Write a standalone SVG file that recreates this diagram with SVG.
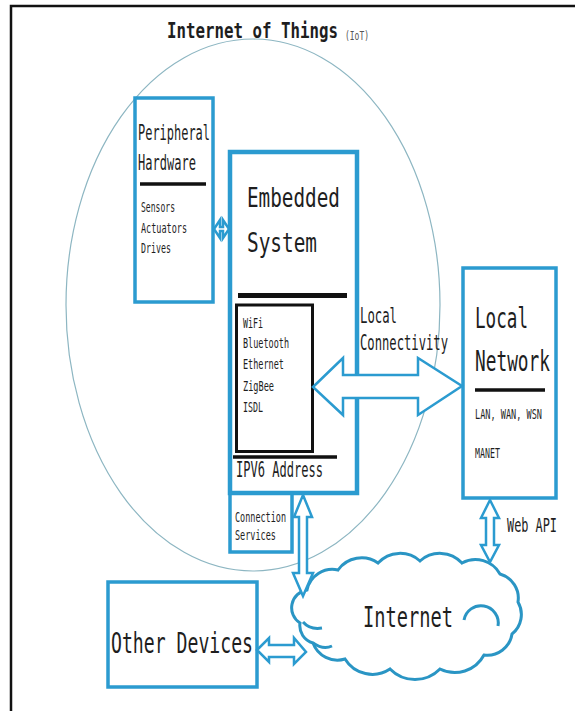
<svg xmlns="http://www.w3.org/2000/svg" width="575" height="711" viewBox="0 0 575 711">
<style>
text{font-family:"DejaVu Sans Mono","Liberation Mono",monospace;fill:#1e1e1e}
.box{fill:none;stroke:#2b9bd0;stroke-width:3.5}
.thick{fill:none;stroke:#2b9bd0;stroke-width:4.5}
.bar{stroke:#111;fill:none}
.arr{fill:#fff;stroke:#2b9bd0;stroke-width:2.5;stroke-linejoin:miter}
.sm{font-size:14px}
.md{font-size:22px}
.lg{font-size:29px}
</style>
<rect width="575" height="711" fill="#fff"/>
<path d="M11 711V6H575" fill="none" stroke="#111" stroke-width="2.5"/>
<g id="title">
<text transform="translate(167 38) scale(1 1.39)" font-size="15.8" font-weight="bold" textLength="171" lengthAdjust="spacingAndGlyphs">Internet of Things</text>
<text transform="translate(345 40) scale(1 1.6)" font-size="8" style="fill:#555" textLength="24" lengthAdjust="spacingAndGlyphs">(IoT)</text>
</g>
<g id="iot-boundary">
<ellipse cx="253" cy="305" rx="187" ry="266" fill="none" stroke="#8db6c2" stroke-width="1.2"/>
</g>
<g id="peripheral-hardware">
<rect class="box" x="135" y="98" width="78" height="204"/>
<text class="md" x="138" y="140" textLength="72" lengthAdjust="spacingAndGlyphs">Peripheral</text>
<text class="md" x="138" y="170" textLength="58" lengthAdjust="spacingAndGlyphs">Hardware</text>
<line class="bar" x1="140" y1="184" x2="206" y2="184" stroke-width="3.5"/>
<text class="sm" x="141" y="212" textLength="34" lengthAdjust="spacingAndGlyphs">Sensors</text>
<text class="sm" x="141" y="233" textLength="46" lengthAdjust="spacingAndGlyphs">Actuators</text>
<text class="sm" x="141" y="253" textLength="30" lengthAdjust="spacingAndGlyphs">Drives</text>
</g>
<g id="embedded-system">
<rect class="thick" x="230" y="152" width="127" height="341"/>
<text x="247" y="207" font-size="26" textLength="93" lengthAdjust="spacingAndGlyphs">Embedded</text>
<text x="247" y="252" font-size="26" textLength="70" lengthAdjust="spacingAndGlyphs">System</text>
<line class="bar" x1="238" y1="295.5" x2="347" y2="295.5" stroke-width="5"/>
<rect class="bar" x="236.5" y="305" width="76" height="146.5" stroke-width="3"/>
<text class="sm" x="243" y="328" textLength="20" lengthAdjust="spacingAndGlyphs">WiFi</text>
<text class="sm" x="243" y="348" textLength="46" lengthAdjust="spacingAndGlyphs">Bluetooth</text>
<text class="sm" x="243" y="369" textLength="41" lengthAdjust="spacingAndGlyphs">Ethernet</text>
<text class="sm" x="243" y="391" textLength="31" lengthAdjust="spacingAndGlyphs">ZigBee</text>
<text class="sm" x="243" y="412" textLength="20" lengthAdjust="spacingAndGlyphs">ISDL</text>
<line class="bar" x1="233" y1="457" x2="337" y2="457" stroke-width="3.5"/>
<text x="236" y="477" font-size="21" textLength="87" lengthAdjust="spacingAndGlyphs">IPV6 Address</text>
</g>
<g id="connection-services">
<rect class="box" x="230" y="493" width="62" height="59" stroke-width="3"/>
<text class="sm" x="235" y="522" textLength="51" lengthAdjust="spacingAndGlyphs">Connection</text>
<text class="sm" x="235" y="540" textLength="41" lengthAdjust="spacingAndGlyphs">Services</text>
</g>
<g id="local-network">
<rect class="box" x="463" y="268" width="93" height="230"/>
<text transform="translate(475 328) scale(1 1.65)" font-size="17.6" textLength="53" lengthAdjust="spacingAndGlyphs">Local</text>
<text transform="translate(475 371) scale(1 1.63)" font-size="17.8" textLength="75" lengthAdjust="spacingAndGlyphs">Network</text>
<line class="bar" x1="475" y1="390" x2="545" y2="390" stroke-width="3.5"/>
<text transform="translate(475 419) scale(1 1.64)" font-size="8.56" textLength="67" lengthAdjust="spacingAndGlyphs">LAN, WAN, WSN</text>
<text transform="translate(475 458) scale(1 1.69)" font-size="8.3" textLength="25" lengthAdjust="spacingAndGlyphs">MANET</text>
</g>
<g id="other-devices">
<rect class="box" x="108" y="582" width="149" height="105"/>
<text class="lg" x="111" y="653" textLength="142" lengthAdjust="spacingAndGlyphs">Other Devices</text>
</g>
<g id="internet">
<path d="M300 623A18 18 0 0 1 307 590A26 26 0 0 1 338 570A29 29 0 0 1 378 563A30 30 0 0 1 420 561A30 30 0 0 1 462 563A28 28 0 0 1 500 574A25 25 0 0 1 518 602A25 25 0 0 1 512 634A25 25 0 0 1 484 655A33 33 0 0 1 440 669A35 35 0 0 1 390 669A32 32 0 0 1 345 659A26 26 0 0 1 313 643A18 18 0 0 1 300 623Z" fill="#fff" stroke="#2a95c4" stroke-width="3"/>
<path d="M464 620A16 16 0 0 1 498 626M303 622Q310 630 322 628M313 643Q323 650 332 646" fill="none" stroke="#2a95c4" stroke-width="3"/>
<text class="lg" x="363" y="627" textLength="90" lengthAdjust="spacingAndGlyphs">Internet</text>
</g>
<g id="connectors">
<polygon class="arr" stroke-width="2" points="214,229 220,220 220,227 223,227 223,220 229,229 223,238 223,231 220,231 220,238"/>
<polygon class="arr" stroke-width="3" points="313,387 343,358 343,375 418,375 418,358 462,386 418,415 418,398 343,398 343,415"/>
<polygon class="arr" points="303,495 312,517 307,517 307,573 313,573 303,596 293,573 299,573 299,517 294,517"/>
<polygon class="arr" points="490,500 499,518 494,518 494,545 499,545 490,562 481,545 486,545 486,518 481,518"/>
<polygon class="arr" points="257,650 269,638 269,645 294,645 294,638 306,652 294,664 294,657 269,657 269,662"/>
<text transform="translate(360 323) scale(1 1.79)" font-size="12.3" textLength="37" lengthAdjust="spacingAndGlyphs">Local</text>
<text transform="translate(360 350) scale(1 1.8)" font-size="12.2" textLength="88" lengthAdjust="spacingAndGlyphs">Connectivity</text>
<text transform="translate(507 532) scale(1 1.6)" font-size="11.9" textLength="50" lengthAdjust="spacingAndGlyphs">Web API</text>
</g>
</svg>
